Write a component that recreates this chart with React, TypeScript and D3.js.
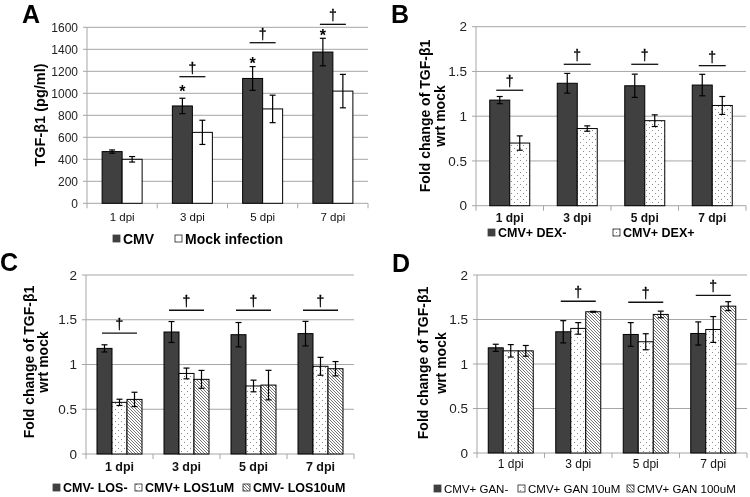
import React from 'react';
import * as d3 from 'd3';

const categories = ['1 dpi', '3 dpi', '5 dpi', '7 dpi'];

// Panel A
const aTicks = [0, 200, 400, 600, 800, 1000, 1200, 1400, 1600];
const aCMV = [470, 885, 1135, 1375];
const aCMVErr = [15, 70, 108, 125];
const aMock = [400, 645, 858, 1020];
const aMockErr = [25, 110, 125, 152];
const aStars = [null, 1048, 1303, 1560];
const aDaggers = [null, 1151, 1460, 1627];
const aLegend = ['CMV', 'Mock infection'];

// Panels B-D share the fold-change axis
const foldTicks = [0, 0.5, 1, 1.5, 2];

const bDexMinus = [1.18, 1.368, 1.34, 1.348];
const bDexMinusErr = [0.04, 0.11, 0.13, 0.12];
const bDexPlus = [0.7, 0.862, 0.95, 1.12];
const bDexPlusErr = [0.08, 0.03, 0.065, 0.1];
const bDaggers = [1.29, 1.58, 1.58, 1.565];
const bLegend = ['CMV+ DEX-', 'CMV+ DEX+'];

const cLosMinus = [1.18, 1.363, 1.333, 1.345];
const cLosMinusErr = [0.04, 0.117, 0.136, 0.137];
const cLos1 = [0.577, 0.9, 0.76, 0.98];
const cLos1Err = [0.035, 0.06, 0.065, 0.1];
const cLos10 = [0.61, 0.834, 0.77, 0.953];
const cLos10Err = [0.08, 0.1, 0.165, 0.08];
const cDaggers = [1.35, 1.606, 1.606, 1.606];
const cLegend = ['CMV- LOS-', 'CMV+ LOS1uM', 'CMV- LOS10uM'];

const dGanMinus = [1.182, 1.362, 1.332, 1.343];
const dGanMinusErr = [0.04, 0.125, 0.133, 0.13];
const dGan10 = [1.148, 1.4, 1.25, 1.388];
const dGan10Err = [0.07, 0.065, 0.09, 0.145];
const dGan100 = [1.148, 1.587, 1.557, 1.65];
const dGan100Err = [0.06, 0.005, 0.037, 0.05];
const dDaggers = [null, 1.705, 1.694, 1.77];
const dLegend = ['CMV+ GAN-', 'CMV+ GAN 10uM', 'CMV+ GAN 100uM'];

const FONT = "'Liberation Sans', Arial, Helvetica, sans-serif";
const DARK = '#404040';
const GRID = '#a6a6a6';
const FILLS = [DARK, 'white', 'url(#dots)', 'url(#hatch)'];

type Series = { values: number[]; errs: number[]; fill: string };

type PanelProps = {
  letter: string; letterX: number; letterY: number;
  left: number; right: number; top: number; bottom: number;
  yMax: number; ticks: number[]; tickSize: number;
  series: Series[]; barW: number;
  daggers: (number | null)[]; daggerHalf: number;
  stars?: (number | null)[];
  titleLines: string[]; titleXs: number[]; titleY: number; titleSize: number;
  xLabelY: number; xLabelSize: number; xLabelBold: boolean;
  legend: string[]; legendFills: string[]; legendXs: number[]; legendY: number;
  legendSize: number; legendBold: boolean;
};

function Panel(p: PanelProps) {
  const x = d3.scaleBand<string>().domain(categories).range([p.left, p.right]).padding(0);
  const y = d3.scaleLinear().domain([0, p.yMax]).range([p.bottom, p.top]);
  const n = p.series.length;
  const bandC = (c: string) => (x(c) as number) + x.bandwidth() / 2;
  const barX = (c: string, i: number) => bandC(c) - (n * p.barW) / 2 + i * p.barW;
  const bounds = [...categories.map((c) => x(c) as number), p.right];
  return (
    <g fontFamily={FONT}>
      <text x={p.letterX} y={p.letterY} fontSize={25} fontWeight="bold" fill="#000">{p.letter}</text>
      {/* gridlines */}
      {p.ticks.filter((t) => t > 0).map((t) => (
        <line key={'g' + t} x1={p.left} x2={p.right} y1={y(t)} y2={y(t)} stroke={GRID} strokeWidth={1} />
      ))}
      {/* y axis */}
      <line x1={p.left} x2={p.left} y1={p.top} y2={p.bottom} stroke={GRID} />
      {p.ticks.map((t) => (
        <g key={'t' + t}>
          <line x1={p.left - 4} x2={p.left} y1={y(t)} y2={y(t)} stroke={GRID} />
          <text x={p.left - 9} y={y(t)} dy="0.35em" textAnchor="end" fontSize={p.tickSize} fill="#222">{String(t)}</text>
        </g>
      ))}
      {/* x axis */}
      <line x1={p.left} x2={p.right} y1={p.bottom} y2={p.bottom} stroke={GRID} />
      {bounds.map((b, i) => (
        <line key={'xb' + i} x1={b} x2={b} y1={p.bottom} y2={p.bottom + 5} stroke={GRID} />
      ))}
      {categories.map((c) => (
        <text key={'xl' + c} x={bandC(c)} y={p.xLabelY} textAnchor="middle" fontSize={p.xLabelSize}
          fontWeight={p.xLabelBold ? 'bold' : 'normal'} fill="#111">{c}</text>
      ))}
      {/* bars */}
      {p.series.map((s, i) =>
        categories.map((c, j) => (
          <rect key={'b' + i + c} x={barX(c, i)} y={y(s.values[j])} width={p.barW}
            height={p.bottom - y(s.values[j])} fill={s.fill} stroke="#000" strokeWidth={1} />
        ))
      )}
      {/* error bars */}
      {p.series.map((s, i) =>
        categories.map((c, j) => {
          const cx = barX(c, i) + p.barW / 2;
          const y1 = y(s.values[j] + s.errs[j]);
          const y2 = y(s.values[j] - s.errs[j]);
          return (
            <g key={'e' + i + c} stroke="#000" strokeWidth={1.2}>
              <line x1={cx} x2={cx} y1={y1} y2={y2} />
              <line x1={cx - 3} x2={cx + 3} y1={y1} y2={y1} />
              <line x1={cx - 3} x2={cx + 3} y1={y2} y2={y2} />
            </g>
          );
        })
      )}
      {/* stars */}
      {p.stars && categories.map((c, j) => p.stars![j] == null ? null : (
        <text key={'s' + c} x={barX(c, 0) + p.barW / 2} y={y(p.stars![j] as number) + 9} textAnchor="middle"
          fontSize={16} fontWeight="bold" fill="#000">*</text>
      ))}
      {/* daggers */}
      {categories.map((c, j) => p.daggers[j] == null ? null : (
        <g key={'d' + c}>
          <line x1={bandC(c) - p.daggerHalf} x2={bandC(c) + p.daggerHalf} y1={y(p.daggers[j] as number)}
            y2={y(p.daggers[j] as number)} stroke="#111" strokeWidth={1.3} />
          <text x={bandC(c)} y={y(p.daggers[j] as number) - 4} textAnchor="middle" fontSize={14}
            fill="#000" stroke="#000" strokeWidth={0.3}>†</text>
        </g>
      ))}
      {/* y title */}
      {p.titleLines.map((t, i) => (
        <text key={'yt' + i} transform={`translate(${p.titleXs[i]},${p.titleY}) rotate(-90)`} textAnchor="middle"
          dominantBaseline="central" fontSize={p.titleSize} fontWeight="bold" fill="#000">{t}</text>
      ))}
      {/* legend */}
      {p.legend.map((l, i) => (
        <g key={'lg' + i}>
          <rect x={p.legendXs[i]} y={p.legendY - 4} width={7} height={7} fill={p.legendFills[i]}
            stroke={i === 0 ? DARK : '#222'} strokeWidth={0.8} />
          <text x={p.legendXs[i] + 10} y={p.legendY} dy="0.35em" fontSize={p.legendSize}
            fontWeight={p.legendBold ? 'bold' : 'normal'} fill="#000">{l}</text>
        </g>
      ))}
    </g>
  );
}

export default function App() {
  return (
    <div style={{ position: 'absolute', left: 0, top: 0, width: 750, height: 497, background: 'white' }}>
      <svg width={750} height={497} style={{ display: 'block', willChange: 'transform' }}>
        <defs>
          <pattern id="dots" width={6} height={6} patternUnits="userSpaceOnUse">
            <rect width={6} height={6} fill="white" />
            <rect x={1} y={1} width={1} height={1} fill="#8a8a8a" />
            <rect x={4} y={4} width={1} height={1} fill="#8a8a8a" />
          </pattern>
          <pattern id="hatch" width={3} height={3} patternUnits="userSpaceOnUse">
            <rect width={3} height={3} fill="white" />
            <path d="M-1,-1 L4,4 M2,-1 L4,1 M-1,2 L1,4" stroke="#666" strokeWidth={0.9} />
          </pattern>
        </defs>
        <Panel
          letter="A" letterX={22} letterY={23}
          left={87} right={368} top={27.3} bottom={203.3}
          yMax={1600} ticks={aTicks} tickSize={12}
          series={[{ values: aCMV, errs: aCMVErr, fill: FILLS[0] }, { values: aMock, errs: aMockErr, fill: FILLS[1] }]}
          barW={20} daggers={aDaggers} daggerHalf={13} stars={aStars}
          titleLines={['TGF-β1 (pg/ml)']} titleXs={[40]} titleY={115} titleSize={14.5}
          xLabelY={221} xLabelSize={11.5} xLabelBold={false}
          legend={aLegend} legendFills={[FILLS[0], FILLS[1]]} legendXs={[113, 175]} legendY={239}
          legendSize={14} legendBold={true}
        />
        <Panel
          letter="B" letterX={391} letterY={23}
          left={476} right={746} top={26.7} bottom={205.7}
          yMax={2} ticks={foldTicks} tickSize={13.5}
          series={[{ values: bDexMinus, errs: bDexMinusErr, fill: FILLS[0] }, { values: bDexPlus, errs: bDexPlusErr, fill: FILLS[2] }]}
          barW={20} daggers={bDaggers} daggerHalf={13.5}
          titleLines={['Fold change of TGF-β1', 'wrt mock']} titleXs={[425, 440]} titleY={116} titleSize={14}
          xLabelY={222} xLabelSize={12} xLabelBold={true}
          legend={bLegend} legendFills={[FILLS[0], FILLS[2]]} legendXs={[488, 613]} legendY={233}
          legendSize={12.5} legendBold={true}
        />
        <Panel
          letter="C" letterX={0} letterY={271}
          left={86} right={354} top={275} bottom={454}
          yMax={2} ticks={foldTicks} tickSize={13.5}
          series={[
            { values: cLosMinus, errs: cLosMinusErr, fill: FILLS[0] },
            { values: cLos1, errs: cLos1Err, fill: FILLS[2] },
            { values: cLos10, errs: cLos10Err, fill: FILLS[3] },
          ]}
          barW={15} daggers={cDaggers} daggerHalf={17.5}
          titleLines={['Fold change of TGF-β1', 'wrt mock']} titleXs={[29, 43]} titleY={362} titleSize={14}
          xLabelY={471} xLabelSize={12.5} xLabelBold={true}
          legend={cLegend} legendFills={[FILLS[0], FILLS[2], FILLS[3]]} legendXs={[53, 135, 243]} legendY={488}
          legendSize={12.5} legendBold={true}
        />
        <Panel
          letter="D" letterX={392} letterY={272}
          left={477} right={747} top={275} bottom={453}
          yMax={2} ticks={foldTicks} tickSize={13.5}
          series={[
            { values: dGanMinus, errs: dGanMinusErr, fill: FILLS[0] },
            { values: dGan10, errs: dGan10Err, fill: FILLS[2] },
            { values: dGan100, errs: dGan100Err, fill: FILLS[3] },
          ]}
          barW={15} daggers={dDaggers} daggerHalf={17.5}
          titleLines={['Fold change of TGF-β1', 'wrt mock']} titleXs={[423, 441]} titleY={363} titleSize={14}
          xLabelY={468} xLabelSize={12} xLabelBold={false}
          legend={dLegend} legendFills={[FILLS[0], FILLS[2], FILLS[3]]} legendXs={[434, 518, 627]} legendY={489}
          legendSize={11.5} legendBold={false}
        />
      </svg>
    </div>
  );
}
